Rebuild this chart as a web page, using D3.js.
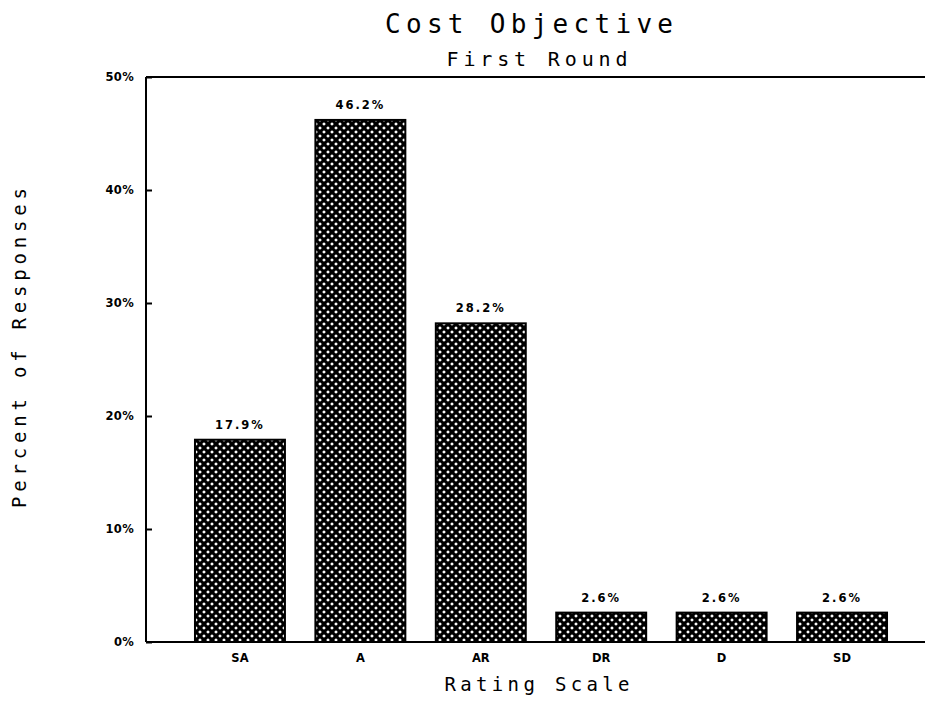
<!DOCTYPE html>
<html><head><meta charset="utf-8">
<script src="https://cdn.jsdelivr.net/npm/d3@7"></script>
<style>body{margin:0;background:#fff}svg{display:block}</style>
</head><body>
<script>
const categories = ["SA","A","AR","DR","D","SD"];
const values = [17.9, 46.2, 28.2, 2.6, 2.6, 2.6];
const valueLabels = ["17.9%","46.2%","28.2%","2.6%","2.6%","2.6%"];
const yTicks = [0,10,20,30,40,50];
const yTickLabels = ["0%","10%","20%","30%","40%","50%"];

const W = 925, H = 711;
const svg = d3.select("body").append("svg").attr("width", W).attr("height", H);

const defs = svg.append("defs");
const P = 8, h = 4, r = 1.85;
const pat = defs.append("pattern").attr("id","hatch").attr("patternUnits","userSpaceOnUse")
  .attr("width",P).attr("height",P);
pat.append("rect").attr("width",P).attr("height",P).attr("fill","#000");
const dia = (cx,cy)=>`M${cx},${cy-r} L${cx+r},${cy} L${cx},${cy+r} L${cx-r},${cy}Z`;
pat.append("path").attr("d",[dia(h,h),dia(0,0),dia(P,0),dia(0,P),dia(P,P)].join(" ")).attr("fill","#fff");

const x0 = 146, yTop = 77, yBot = 642;
const y = d3.scaleLinear().domain([0,50]).range([yBot, yTop]);
const x = d3.scaleBand().domain(categories).range([179.75, 902.25]).paddingInner(0.253).paddingOuter(0.1265);

// bars
svg.selectAll("rect.bar").data(values).enter().append("rect")
  .attr("class","bar")
  .attr("x",(d,i)=>x(categories[i]))
  .attr("y",d=>y(d))
  .attr("width",x.bandwidth())
  .attr("height",d=>yBot - y(d))
  .attr("fill","url(#hatch)")
  .attr("stroke","#000").attr("stroke-width",2);

// frame lines
svg.append("line").attr("x1",x0).attr("x2",W).attr("y1",yTop).attr("y2",yTop).attr("stroke","#000").attr("stroke-width",2);
svg.append("line").attr("x1",x0).attr("x2",W).attr("y1",yBot).attr("y2",yBot).attr("stroke","#000").attr("stroke-width",2);

// y axis
const yAxis = d3.axisRight(y).tickValues(yTicks).tickSize(6).tickFormat(()=> "");
const gy = svg.append("g").attr("transform",`translate(${x0},0)`).call(yAxis);
gy.select(".domain").attr("stroke-width",2).attr("d",`M0,${yTop}V${yBot}`);
gy.selectAll(".tick line").attr("stroke-width",2);
svg.selectAll("text.ytl").data(yTicks).enter().append("text").attr("class","ytl")
  .attr("x",134).attr("y",d=>y(d)+4)
  .attr("text-anchor","end")
  .attr("font-family","DejaVu Sans").attr("font-weight","bold").attr("font-size",11.5)
  .attr("letter-spacing",0.3)
  .text((d,i)=>yTickLabels[i]);

// x axis labels
const xAxis = d3.axisBottom(x).tickSize(0).tickPadding(12);
const gx = svg.append("g").attr("transform",`translate(0,${yBot})`).call(xAxis);
gx.select(".domain").remove();
gx.selectAll("text").attr("font-family","DejaVu Sans").attr("font-weight","bold").attr("font-size",11.5).attr("fill","#000");

// value labels
svg.selectAll("text.vl").data(values).enter().append("text").attr("class","vl")
  .attr("x",(d,i)=>x(categories[i])+x.bandwidth()/2)
  .attr("y",d=>y(d)-11)
  .attr("text-anchor","middle")
  .attr("font-family","DejaVu Sans").attr("font-weight","bold").attr("font-size",11.5)
  .attr("letter-spacing",2)
  .text((d,i)=>valueLabels[i]);

// titles
const titleFont = "DejaVu Sans Mono";
svg.append("text").attr("x",529).attr("y",33).attr("text-anchor","middle")
  .attr("font-family",titleFont).attr("font-size",26)
  .attr("textLength",288).attr("lengthAdjust","spacing")
  .text("Cost Objective");
svg.append("text").attr("x",537).attr("y",66).attr("text-anchor","middle")
  .attr("font-family",titleFont).attr("font-size",20)
  .attr("textLength",181).attr("lengthAdjust","spacing")
  .text("First Round");
svg.append("text").attr("x",537).attr("y",691).attr("text-anchor","middle")
  .attr("font-family",titleFont).attr("font-size",19)
  .attr("textLength",185).attr("lengthAdjust","spacing")
  .text("Rating Scale");
svg.append("text").attr("transform","translate(26,348) rotate(-90)").attr("text-anchor","middle")
  .attr("font-family",titleFont).attr("font-size",19)
  .attr("textLength",320).attr("lengthAdjust","spacing")
  .text("Percent of Responses");
</script>
</body></html>
